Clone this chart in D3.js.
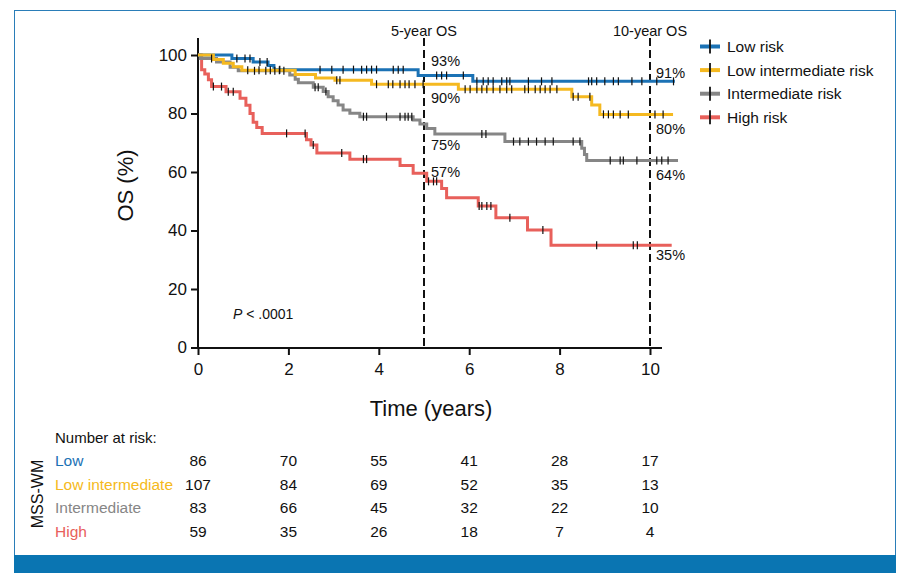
<!DOCTYPE html>
<html><head><meta charset="utf-8">
<script src="https://cdn.jsdelivr.net/npm/d3@7"></script>
<style>body{margin:0;background:#fff} text{font-family:"Liberation Sans",Arial,sans-serif;fill:#111}</style>
</head><body><svg id="c" width="915" height="585"></svg>
<script>
const timeTicks=[0,2,4,6,8,10];
const osTicks=[0,20,40,60,80,100];
const seriesNames=["Low risk","Low intermediate risk","Intermediate risk","High risk"];
const seriesColors=["#1b72b5","#f5b920","#868686","#e8605b"];

const lowSteps=[[0.75,98.8],[1.22,97.6],[1.55,96.4],[1.68,95.0],[4.87,93.0],[6.08,91.0]];
const lowCensor=[0.86,1.04,1.15,1.37,1.53,1.81,2.70,2.96,3.21,3.44,3.62,3.73,3.84,3.95,4.32,4.43,4.54,5.28,5.39,5.50,5.87,6.17,6.31,6.42,6.53,6.72,6.83,6.90,7.31,7.60,7.83,8.64,8.71,8.82,9.00,9.19,9.30,9.60,9.82,10.15,10.52];
const lowEnd=10.55;

const lowIntSteps=[[0.34,98.5],[0.56,97.2],[0.78,96.0],[0.97,94.8],[2.15,93.3],[2.6,92.1],[3.03,91.4],[3.84,90.0],[5.76,88.3],[8.27,85.7],[8.71,82.9],[8.89,79.7]];
const lowIntCensor=[1.1,1.35,1.6,1.8,3.07,3.14,3.95,4.21,4.31,4.47,4.58,4.67,4.80,4.98,5.91,6.02,6.17,6.28,6.39,6.53,6.68,6.83,6.94,7.23,7.31,7.46,7.57,7.68,7.79,7.94,8.30,8.41,8.67,8.97,9.08,9.19,9.34,9.52,10.11,10.29];
const lowIntEnd=10.51;

const intSteps=[[0.05,98.8],[0.41,97.6],[0.71,95.8],[0.89,94.6],[2.03,93.2],[2.15,91.7],[2.22,90.5],[2.55,89.0],[2.77,87.5],[2.88,85.7],[2.99,84.4],[3.10,82.9],[3.21,81.2],[3.36,80.1],[3.58,78.9],[4.76,77.8],[4.91,76.4],[5.06,74.9],[5.24,73.0],[6.79,70.4],[8.49,68.1],[8.55,66.0],[8.6,63.9]];
const intCensor=[0.3,1.25,1.5,1.7,1.9,2.59,2.66,2.83,3.66,3.73,4.17,4.47,4.58,4.65,4.73,6.28,6.37,6.98,7.12,7.31,7.49,7.68,7.86,8.30,8.45,9.12,9.34,9.41,9.71,10.15,10.26,10.40];
const intEnd=10.62;

const highSteps=[[0.08,95],[0.15,93.5],[0.23,91.5],[0.3,89.2],[0.62,87.4],[0.93,85.2],[1.06,82.8],[1.15,80],[1.22,77],[1.3,75.2],[1.42,73.2],[2.4,71],[2.5,69.2],[2.63,66.5],[3.36,64.4],[4.47,62.2],[4.76,59.6],[5.06,56.8],[5.39,54.4],[5.5,51.2],[6.2,48.4],[6.59,44.4],[7.29,40.2],[7.81,35]];
const highCensor=[0.34,0.52,0.67,0.78,1.96,2.37,2.55,3.18,3.66,3.73,5.10,5.21,5.28,6.22,6.28,6.39,6.48,6.90,7.63,8.82,9.63,9.72];
const highEnd=10.48;

const fiveYearOS=[93,90,75,57];
const tenYearOS=[91,80,64,35];

const riskRowLabels=["Low","Low intermediate","Intermediate","High"];
const riskLow=[86,70,55,41,28,17];
const riskLowInt=[107,84,69,52,35,13];
const riskInt=[83,66,45,32,22,10];
const riskHigh=[59,35,26,18,7,4];

const series=[
  {steps:lowSteps,censor:lowCensor,end:lowEnd},
  {steps:lowIntSteps,censor:lowIntCensor,end:lowIntEnd},
  {steps:intSteps,censor:intCensor,end:intEnd},
  {steps:highSteps,censor:highCensor,end:highEnd}
];
const riskRows=[riskLow,riskLowInt,riskInt,riskHigh];

const svg=d3.select("#c");
const x=d3.scaleLinear().domain([0,10]).range([198,650]);
const y=d3.scaleLinear().domain([0,100]).range([347.5,55]);

// frame
svg.append("rect").attr("x",14.5).attr("y",10.5).attr("width",881).attr("height",545)
  .attr("fill","none").attr("stroke","#2a7db8").attr("stroke-width",1);
svg.append("rect").attr("x",14).attr("y",555).attr("width",882).attr("height",18).attr("fill","#0a75b2");

// axes
const yAxis=svg.append("g").attr("transform","translate(198,0)")
  .call(d3.axisLeft(y).tickValues(osTicks).tickSize(7).tickPadding(4));
yAxis.select(".domain").remove();
const xAxis=svg.append("g").attr("transform","translate(0,348)")
  .call(d3.axisBottom(x).tickValues(timeTicks).tickSize(7).tickPadding(8));
xAxis.select(".domain").remove();
[yAxis,xAxis].forEach(g=>{
  g.selectAll(".tick line").attr("stroke","#111").attr("stroke-width",2);
  g.selectAll(".tick text").style("font-size","17px").attr("fill","#111")
   .style("font-family","'Liberation Sans',Arial,sans-serif");
});
svg.append("line").attr("x1",198).attr("x2",198).attr("y1",38).attr("y2",349).attr("stroke","#111").attr("stroke-width",2);
svg.append("line").attr("x1",191).attr("x2",662).attr("y1",348).attr("y2",348).attr("stroke","#111").attr("stroke-width",2);

// dashed reference lines
[5,10].forEach(t=>{
  svg.append("line").attr("x1",x(t)).attr("x2",x(t)).attr("y1",38).attr("y2",347)
    .attr("stroke","#111").attr("stroke-width",2).attr("stroke-dasharray","8,4");
});
svg.append("text").attr("x",x(5)).attr("y",36).attr("text-anchor","middle").style("font-size","14.5px").text("5-year OS");
svg.append("text").attr("x",x(10)).attr("y",36).attr("text-anchor","middle").style("font-size","14.5px").text("10-year OS");

// curves
const line=d3.line().x(d=>x(d[0])).y(d=>y(d[1])).curve(d3.curveStepAfter);
function survAt(s,t){let v=100;for(const [st,sv] of s.steps){if(st<=t)v=sv;}return v;}
const drawOrder=[3,2,0,1];
drawOrder.forEach(i=>{
  const s=series[i];
  const pts=[[0,100],...s.steps,[s.end,s.steps[s.steps.length-1][1]]];
  svg.append("path").attr("d",line(pts)).attr("fill","none").attr("stroke",seriesColors[i]).attr("stroke-width",3);
});
drawOrder.forEach(i=>{
  const s=series[i];
  svg.append("g").selectAll("line").data(s.censor).join("line")
    .attr("x1",d=>x(d)).attr("x2",d=>x(d))
    .attr("y1",d=>y(survAt(s,d))-4).attr("y2",d=>y(survAt(s,d))+4)
    .attr("stroke","#111").attr("stroke-width",1.2);
});

// percent labels
const fiveOff=[-9.5,19,22,-4];
const tenOff=[-3,20,20,15];
fiveYearOS.forEach((v,i)=>svg.append("text").attr("x",x(5)+7).attr("y",y(v)+fiveOff[i]).style("font-size","14.5px").text(v+"%"));
tenYearOS.forEach((v,i)=>svg.append("text").attr("x",x(10)+6).attr("y",y(v)+tenOff[i]).style("font-size","14.5px").text(v+"%"));

// p value
const pt=svg.append("text").attr("x",233).attr("y",319).style("font-size","14px");
pt.append("tspan").style("font-style","italic").text("P");
pt.append("tspan").text(" < .0001");

// axis titles
svg.append("text").attr("x",431).attr("y",416).attr("text-anchor","middle").style("font-size","22px").text("Time (years)");
svg.append("text").attr("transform","translate(133,185.5) rotate(-90)").attr("text-anchor","middle").style("font-size","22px").text("OS (%)");

// legend
const lg=svg.append("g");
seriesNames.forEach((n,i)=>{
  const cy=46.5+i*23.6;
  lg.append("line").attr("x1",700).attr("x2",720).attr("y1",cy).attr("y2",cy).attr("stroke",seriesColors[i]).attr("stroke-width",4);
  lg.append("line").attr("x1",710).attr("x2",710).attr("y1",cy-7).attr("y2",cy+7).attr("stroke","#111").attr("stroke-width",1.8);
  lg.append("text").attr("x",727).attr("y",cy+5.5).style("font-size","15.5px").text(n);
});

// risk table
svg.append("text").attr("x",55).attr("y",443).style("font-size","15px").text("Number at risk:");
riskRowLabels.forEach((lab,i)=>{
  const by=466+i*23.5;
  svg.append("text").attr("x",55).attr("y",by).style("font-size","15.5px").style("fill",seriesColors[i]).text(lab);
  riskRows[i].forEach((v,j)=>{
    svg.append("text").attr("x",x(timeTicks[j])).attr("y",by).attr("text-anchor","middle").style("font-size","15.5px").text(v);
  });
});
svg.append("text").attr("transform","translate(43,494) rotate(-90)").attr("text-anchor","middle").style("font-size","16px").text("MSS-WM");
</script></body></html>
